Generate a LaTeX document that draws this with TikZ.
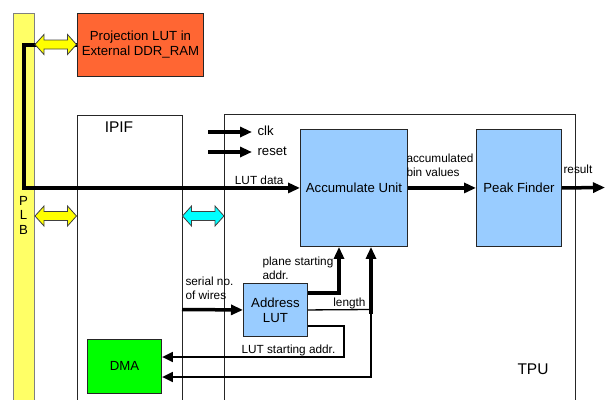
\documentclass[tikz,border=0pt]{standalone}
\usepackage{fontspec}
\setmainfont{Liberation Sans}
\usetikzlibrary{arrows.meta}
\definecolor{plbyellow}{HTML}{FFFF66}
\definecolor{arrowyellow}{HTML}{FFFF00}
\definecolor{arrowcyan}{HTML}{00FFFF}
\definecolor{ddrorange}{HTML}{FF6633}
\definecolor{unitblue}{HTML}{99CCFF}
\definecolor{dmagreen}{HTML}{00FF00}
\begin{document}
\begin{tikzpicture}[x=1pt,y=-1pt,
  bigtext/.style={font=\fontsize{13.2}{15}\selectfont},
  hugetext/.style={font=\fontsize{15.5}{18}\selectfont},
  smalltext/.style={font=\fontsize{11.8}{14}\selectfont},
  box/.style={draw=black!85, line width=0.9pt, inner sep=0pt, align=center, bigtext, anchor=north west},
  frame/.style={draw=black!85, line width=0.8pt, inner sep=0pt, anchor=north west},
  bigarrow/.style={line width=3.5pt, -{Triangle[length=12pt,width=10pt]}},
  midarrow/.style={line width=2.8pt, -{Triangle[length=11pt,width=9.5pt]}},
  thinline/.style={line width=1.3pt},
  pics/dbl/.style={code={
    \draw[fill=#1, draw=black!75, line width=0.8pt]
      (0,0) -- (9,-10) -- (9,-4.5) -- (32.5,-4.5) -- (32.5,-10) -- (41.5,0)
      -- (32.5,10) -- (32.5,4.5) -- (9,4.5) -- (9,10) -- cycle;}}
]
\useasboundingbox (0,0) rectangle (605,399);
\clip (0,0) rectangle (605,399);

% frames
\node[frame, minimum width=105, minimum height=310] (ipif) at (77,115) {};
\node[frame, minimum width=351, minimum height=310] (tpu) at (224,114) {};
\node[hugetext] (ipiflabel) at (119,127) {IPIF};
\node[hugetext] (tpulabel) at (533,369) {TPU};

% PLB bar
\node[draw=black!50, fill=plbyellow, line width=0.9pt, minimum width=21, minimum height=400, inner sep=0pt, anchor=north west] (plb) at (13,13) {};
\node[bigtext, align=center] (plblabel) at (23.5,215) {P\\[-0.5pt]L\\[-0.5pt]B};

% boxes
\node[box, fill=ddrorange, minimum width=126, minimum height=63] (proj) at (77,13) {Projection LUT in\\External DDR\_RAM};
\node[box, fill=unitblue, minimum width=107, minimum height=117] (acc) at (300,129) {Accumulate Unit};
\node[box, fill=unitblue, minimum width=85, minimum height=117] (peak) at (476,129) {Peak Finder};
\node[box, fill=unitblue, minimum width=64, minimum height=53] (addr) at (243,283) {Address\\LUT};
\node[box, fill=dmagreen, minimum width=74, minimum height=54] (dma) at (87,339) {DMA};

% coordinates for free ends
\coordinate (clkin) at (208,132);
\coordinate (clkend) at (252,132);
\coordinate (rstin) at (208,152);
\coordinate (rstend) at (252,152);
\coordinate (res) at (605,187.5);
\coordinate (serin) at (182,309.5);
\coordinate (planecorner) at (339,293);
\coordinate (lenjoin) at (371,309.5);
\coordinate (lencorner) at (371,377);
\coordinate (lutcorner) at (344,326);

% LUT data path
\draw[bigarrow] (proj.west) -| (plb.center |- acc.west) -- (acc.west);
\node[smalltext, anchor=base east] (lutdata) at (287,184) {LUT data};

% double arrows
\pic at (35,44.5) {dbl=arrowyellow};
\pic at (35,216) {dbl=arrowyellow};
\pic at (182.5,216) {dbl=arrowcyan};

% clk / reset
\draw[bigarrow] (clkin) -- (clkend);
\node[bigtext, anchor=west] (clk) at (254,131) {clk};
\draw[bigarrow] (rstin) -- (rstend);
\node[bigtext, anchor=west] (reset) at (254,151) {reset};

% accumulate -> peak -> result
\draw[bigarrow] (acc.east) -- (peak.west);
\node[smalltext, align=left, anchor=south west] (binlabel) at (403,180) {accumulated\\bin values};
\draw[bigarrow] (peak.east) -- (res);
\node[smalltext, anchor=base west] (reslabel) at (560,173) {result};

% serial no.
\draw[bigarrow] (serin) -- (addr.west);
\node[smalltext, align=left, anchor=south west] (serlabel) at (182,303) {serial no.\\of wires};

% plane starting addr
\draw[bigarrow] (addr.east |- planecorner) -| (acc.south -| planecorner);
\node[smalltext, align=left, anchor=south west] (planelabel) at (259,283) {plane starting\\addr.};

% length
\draw[thinline] (addr.east) -- (lenjoin);
\draw[bigarrow] ([yshift=-4pt]lenjoin) -- (acc.south -| lenjoin);
\node[smalltext, anchor=base east] (lenlabel) at (369,306) {length};
\draw[midarrow] (lenjoin) -- (lencorner) -- (dma.east |- lencorner);

% LUT starting addr
\draw[midarrow] (addr.east |- lutcorner) -- (lutcorner) -- (lutcorner |- 0,357) -- (dma.east |- 0,357);
\node[smalltext, anchor=base west] (lutstart) at (238,353) {LUT starting addr.};
\end{tikzpicture}
\end{document}
